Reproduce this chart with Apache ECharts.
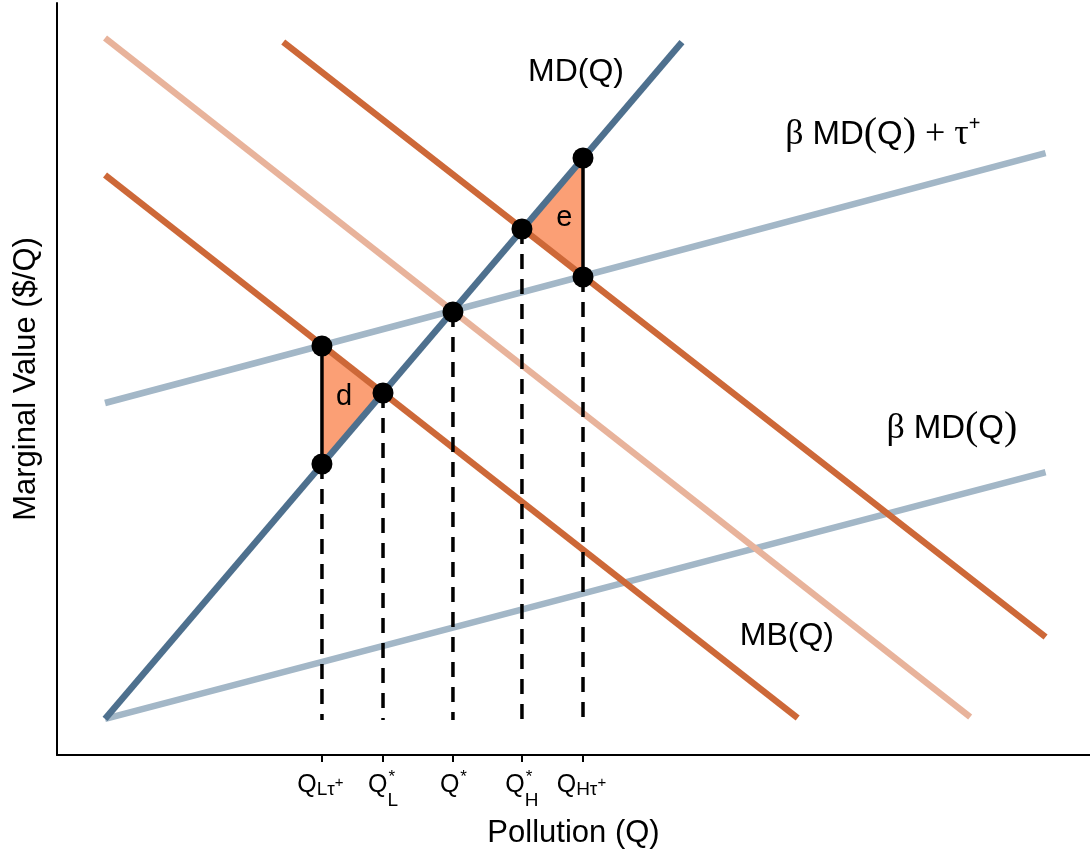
<!DOCTYPE html>
<html><head><meta charset="utf-8">
<script src="https://cdn.jsdelivr.net/npm/echarts@6/dist/echarts.min.js"></script>
<style>html,body{margin:0;padding:0;background:#fff}#c{width:1090px;height:857px}</style>
</head><body><div id="c"></div>
<script>
// ---- data (x: pollution, y: marginal value; abstract units 0-100) ----
const mdLine        = [[4.65, 4.79], [60.5, 94.81]];   // MD(Q)
const betaMdLine    = [[4.65, 4.79], [95.7, 37.63]];   // β MD(Q)
const betaMdTauLine = [[4.65, 46.81], [95.7, 80.05]];  // β MD(Q) + τ+
const mbLowLine     = [[4.65, 77.13], [71.7, 4.92]];   // low marginal benefit
const mbLine        = [[4.65, 95.35], [88.4, 5.05]];   // MB(Q)
const mbHighLine    = [[21.9, 94.81], [95.7, 15.69]];  // high marginal benefit
const eqPoints = [[25.65, 54.39], [25.65, 38.70], [31.56, 48.14], [38.33, 58.91],
                  [45.01, 69.95], [50.92, 79.39], [50.92, 63.56]];
const dropTops = [[25.65, 38.70], [31.56, 48.14], [38.33, 58.91], [45.01, 69.95], [50.92, 63.56]];
const dropBase = 4.65;
const triD = [[25.65, 54.39], [25.65, 38.70], [31.56, 48.14]];
const triE = [[50.92, 79.39], [50.92, 63.56], [45.01, 69.95]];
const edgeD = [[25.65, 54.39], [25.65, 38.70]];
const edgeE = [[50.92, 79.39], [50.92, 63.56]];
const tickValues = [25.65, 31.56, 38.33, 45.01, 50.92];
const tickSub = ['Lτ', 'L', '', 'H', 'Hτ'];
const tickSup = ['+', '*', '*', '*', '+'];
const annotX = [45.6, 70.5, 80.3, 66.1, 27.8, 49.1];
const annotY = [88.7, 79.8, 40.7, 13.7, 47.6, 71.4];
const annotText = [
  'MD(Q)',
  '{g|β} {s|MD}{p|(}{s|Q}{p|)} {g|+ τ}{sup|+}',
  '{g|β} {s|MD}{p|(}{s|Q}{p|)}',
  'MB(Q)',
  'd',
  'e'
];

// ---- styling ----
const SANS = '"Liberation Sans", Arial, Helvetica, sans-serif';
const SERIF = '"Liberation Serif", "Times New Roman", serif';
const C_DARKBLUE = '#4e708e';
const C_LIGHTBLUE = '#a3b7c7';
const C_DARKORANGE = '#cd6838';
const C_LIGHTORANGE = '#e8b39b';
const C_TRI = '#fb9f75';

const mctx = document.createElement('canvas').getContext('2d');
function tw(t, size, fam) { mctx.font = size + 'px ' + fam; return mctx.measureText(t).width; }

function lineSeries(data, color, z) {
  return { type: 'line', data: data, symbol: 'none', silent: true, z: z,
    lineStyle: { color: color, width: 6.5, cap: 'butt' }, animation: false };
}

const chart = echarts.init(document.getElementById('c'), null, { renderer: 'canvas' });
chart.setOption({
  animation: false,
  backgroundColor: '#ffffff',
  grid: { left: 57, right: 0, top: 3, bottom: 102, containLabel: false },
  xAxis: {
    type: 'value', min: 0, max: 100,
    name: 'Pollution (Q)', nameLocation: 'middle', nameGap: 63,
    nameTextStyle: { fontFamily: SANS, fontSize: 31, color: '#000' },
    axisLine: { show: true, onZero: false, lineStyle: { color: '#000', width: 2 } },
    axisTick: { show: true, customValues: tickValues, length: 7, lineStyle: { color: '#000', width: 2 } },
    axisLabel: { show: false },
    splitLine: { show: false }
  },
  yAxis: {
    type: 'value', min: 0, max: 100,
    name: 'Marginal Value ($/Q)', nameLocation: 'middle', nameGap: 15, nameRotate: 90,
    nameTextStyle: { fontFamily: SANS, fontSize: 31, color: '#000' },
    axisLine: { show: true, onZero: false, lineStyle: { color: '#000', width: 2 } },
    axisTick: { show: false }, axisLabel: { show: false }, splitLine: { show: false }
  },
  series: [
    {
      type: 'custom', z: 1, silent: true, clip: false,
      data: [[0], [1]],
      renderItem: function (params, api) {
        const tri = [triD, triE][api.value(0)];
        return { type: 'polygon', shape: { points: tri.map(p => api.coord(p)) },
          style: { fill: C_TRI } };
      }
    },
    lineSeries(betaMdLine, C_LIGHTBLUE, 2),
    lineSeries(betaMdTauLine, C_LIGHTBLUE, 2),
    lineSeries(mbLine, C_LIGHTORANGE, 3),
    lineSeries(mbLowLine, C_DARKORANGE, 3),
    lineSeries(mbHighLine, C_DARKORANGE, 3),
    lineSeries(mdLine, C_DARKBLUE, 4),
    {
      type: 'custom', z: 5, silent: true, clip: false,
      data: dropTops,
      renderItem: function (params, api) {
        const a = api.coord([api.value(0), api.value(1)]);
        const b = api.coord([api.value(0), dropBase]);
        return { type: 'line', shape: { x1: a[0], y1: a[1], x2: b[0], y2: b[1] },
          style: { stroke: '#000', lineWidth: 3.5, lineDash: [15, 10] } };
      }
    },
    { type: 'line', data: edgeD, symbol: 'none', silent: true, z: 6, lineStyle: { color: '#000', width: 3.5 } },
    { type: 'line', data: edgeE, symbol: 'none', silent: true, z: 6, lineStyle: { color: '#000', width: 3.5 } },
    { type: 'scatter', data: eqPoints, symbolSize: 21, silent: true, z: 7,
      itemStyle: { color: '#000', opacity: 1 } },
    {
      type: 'custom', z: 8, silent: true, clip: false,
      data: annotX.map((x, i) => [x, annotY[i], i]),
      renderItem: function (params, api) {
        const i = api.value(2);
        const p = api.coord([api.value(0), api.value(1)]);
        const centered = i >= 4;
        return {
          type: 'text', x: p[0], y: p[1],
          style: {
            text: annotText[i], fill: '#000',
            font: (centered ? 29 : 32) + 'px ' + SANS,
            align: centered ? 'center' : 'left',
            verticalAlign: centered ? 'middle' : 'bottom',
            rich: {
              g: { fontFamily: SERIF, fontSize: 36, fill: '#000' },
              s: { fontFamily: SANS, fontSize: 33, fill: '#000' },
              p: { fontFamily: SERIF, fontSize: 40, fill: '#000' },
              sup: { fontFamily: SANS, fontSize: 20, fill: '#000', verticalAlign: 'top' }
            }
          }
        };
      }
    },
    {
      type: 'custom', z: 8, silent: true, clip: false,
      data: tickValues.map((v, i) => [v, 0, i]),
      renderItem: function (params, api) {
        const i = api.value(2);
        const p = api.coord([api.value(0), 0]);
        const x = p[0], y0 = p[1];
        const qs = 25, ss = 19, ps = 17;
        const wQ = tw('Q', qs, SANS);
        const sub = tickSub[i], sup = tickSup[i];
        const wSub = sub ? tw(sub, ss, SANS) : 0;
        const wSup = tw(sup, ps, SANS);
        const kids = [];
        const T = (t, xx, yy, size) => ({ type: 'text', x: xx, y: yy,
          style: { text: t, font: size + 'px ' + SANS, fill: '#000', align: 'left', verticalAlign: 'middle' } });
        if (sup === '+') {
          const total = wQ + wSub + wSup;
          const s = x - total / 2 - 1;
          kids.push(T('Q', s, y0 + 30, qs));
          kids.push(T(sub, s + wQ, y0 + 35, ss));
          kids.push(T(sup, s + wQ + wSub, y0 + 28, 15));
        } else {
          const total = wQ + Math.max(wSub, wSup);
          const s = x - total / 2;
          kids.push(T('Q', s, y0 + 30, qs));
          kids.push(T(sup, s + wQ + 1, y0 + 22, ps));
          if (sub) kids.push(T(sub, s + wQ, y0 + 46, ss));
        }
        return { type: 'group', children: kids };
      }
    }
  ]
});
</script>
</body></html>
